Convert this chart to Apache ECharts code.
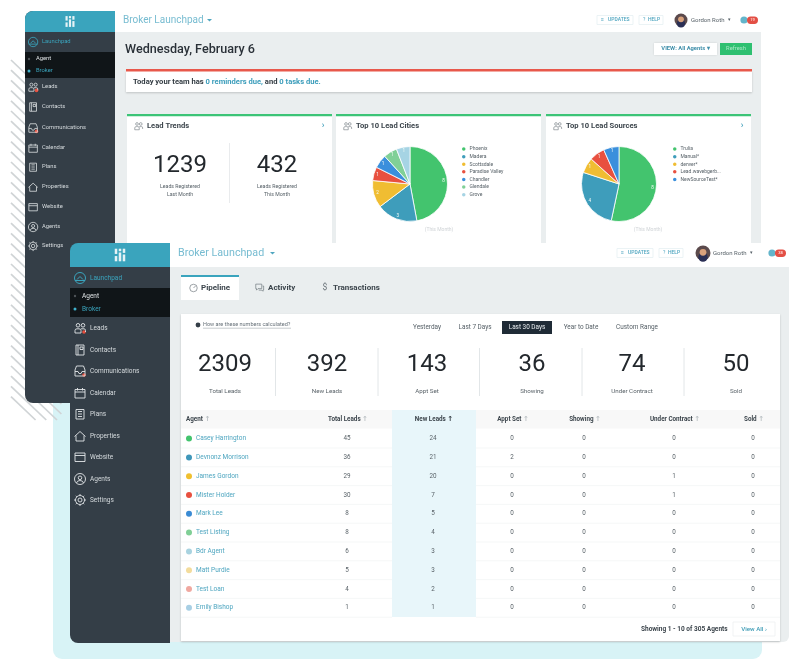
<!DOCTYPE html>
<html>
<head>
<meta charset="utf-8">
<style>
  html, body { margin: 0; background: #fff; }
  #chart { width: 800px; height: 672px; }
</style>
<script src="https://cdn.jsdelivr.net/npm/echarts@6/dist/echarts.min.js"></script>
</head>
<body>
<div id="chart"></div>
<script>
// pie data
const cityNames = ["Phoenix", "Madera", "Scottsdale", "Paradise Valley", "Chandler", "Glendale", "Grove"];
const cityLeads = [8, 3, 2, 1, 1, 1, 1];
const cityColors = ["#43c46e", "#3e9dbb", "#f0bd32", "#e8503f", "#3a8fdc", "#80d097", "#a6d4e4"];
const sourceNames = ["Trulia", "Manual*", "denver*", "Lead.wavebgerb...", "NewSourceTest*"];
const sourceLeads = [8, 4, 1, 1, 1];
const sourceColors = ["#43c46e", "#3e9dbb", "#f0bd32", "#e8503f", "#3a8fdc"];

// back panel numbers
const trendValues = ["1239", "432"];
const trendLabels = [["Leads Registered", "Last Month"], ["Leads Registered", "This Month"]];

// front panel numbers
const metricValues = ["2309", "392", "143", "36", "74", "50"];
const metricLabels = ["Total Leads", "New Leads", "Appt Set", "Showing", "Under Contract", "Sold"];
const filterLabels = ["Yesterday", "Last 7 Days", "Last 30 Days", "Year to Date", "Custom Range"];

// table
const agentNames = ["Casey Harrington", "Devnonz Morrison", "James Gordon", "Mister Holder", "Mark Lee",
  "Test Listing", "Bdr Agent", "Matt Purdie", "Test Loan", "Emily Bishop"];
const agentColors = ["#43c46e", "#3f97ba", "#f0c02f", "#e8503f", "#3a8bd4", "#80cf96", "#a9d3e0", "#f3dc9c", "#f0a8a0", "#a8cfe4"];
const totalLeads = [45, 36, 29, 30, 8, 8, 6, 5, 4, 1];
const newLeads = [24, 21, 20, 7, 5, 4, 3, 3, 2, 1];
const apptSet = [0, 2, 0, 0, 0, 0, 0, 0, 0, 0];
const showing = [0, 0, 0, 0, 0, 0, 0, 0, 0, 0];
const underContract = [0, 0, 1, 1, 0, 0, 0, 0, 0, 0];
const sold = [0, 0, 0, 0, 0, 0, 0, 0, 0, 0];

const navItems = ["Leads", "Contacts", "Communications", "Calendar", "Plans", "Properties", "Website", "Agents", "Settings"];

const TEAL = "#3aa4bd";
const LINK = "#4fa6c0";
const SIDE = "#343e47";
const GRAY = "#eaeeef";
const INK = "#2b343b";
const FONT = "Roboto, sans-serif";

const ICONS = {
  launchpad: "M6 0.5A5.5 5.5 0 1 1 5.99 0.5Z M3 7.5L6 4.5L9 7.5 M1 8.5H11",
  Leads: "M4 1.5a1.8 1.8 0 1 0 .01 0Z M9 1.5a1.8 1.8 0 1 0 .01 0Z M1 11V8.5Q1 6.8 3 6.8H5Q7 6.8 7 8.5V11Z M7 6.8H10Q11.5 6.8 11.5 8.5V10",
  Contacts: "M2 1H10V11H2Z M4 1V11 M6 3H9V5.5H6Z",
  Communications: "M1 5L2.5 1H9.5L11 5V11H1Z M1 6.5H4L5 8.5H7L8 6.5H11",
  Calendar: "M1 2.5H11V11H1Z M1 5H11 M3.5 1V3.5 M8.5 1V3.5",
  Plans: "M2 1.5H10V11H2Z M4 3.5H8 M4 6H8 M4 8.5H8",
  Properties: "M0.5 6.5L6 1.5L11.5 6.5 M2 5.5V11H10V5.5",
  Website: "M1 2H11V10.5H1Z M1 4.5H11",
  Agents: "M6 0.5A5.5 5.5 0 1 1 5.99 0.5Z M6 3a1.8 1.8 0 1 0 .01 0Z M2.5 10Q3 7.5 6 7.5Q9 7.5 9.5 10",
  Settings: "M6 4a2 2 0 1 0 .01 0Z M6 1.5a4.5 4.5 0 1 0 .01 0Z M6 0V1.5 M6 10.5V12 M0 6H1.5 M10.5 6H12 M1.8 1.8L2.8 2.8 M9.2 9.2L10.2 10.2 M1.8 10.2L2.8 9.2 M9.2 2.8L10.2 1.8",
  gauge: "M6 1A5 5 0 1 1 5.99 1Z M6 6L9 3",
  chat: "M1 1.5H9V7.5H4L2 9.5V7.5H1Z M10 4H11.5V9.5H10.5V11L9 9.5H5"
};

const g = [];
const iconList = [];

function rect(x, y, w, h, fill, extra) {
  const { r, ...style } = extra || {};
  g.push({ type: "rect", shape: { x, y, width: w, height: h, r: r || 0 }, style: { fill, ...style }, silent: true });
}
function circle(x, y, r, fill) {
  g.push({ type: "circle", shape: { cx: x, cy: y, r }, style: { fill }, silent: true });
}
function line(x1, y1, x2, y2, stroke, lineWidth) {
  g.push({ type: "line", shape: { x1, y1, x2, y2 }, style: { stroke, lineWidth: lineWidth || 1 }, silent: true });
}
function text(x, y, str, opts) {
  const o = opts || {};
  g.push({
    type: "text", x, y, silent: true,
    style: {
      text: str, fill: o.color || INK, fontFamily: FONT, fontSize: o.size || 6, fontWeight: o.weight || 400,
      align: o.align || "left", verticalAlign: "middle", rich: o.rich
    }
  });
}
// the graphic component has no path type, icons go through a custom series
function icon(name, x, y, scale, stroke, lineWidth) {
  iconList.push({ name, x, y, scale, stroke, lineWidth: lineWidth || 0.8 });
}
function logo(cx, cy, s) {
  const bars = [[-5, -6, 2.4, 5], [-5, 1, 2.4, 5], [-1.2, -6, 2.4, 2.4], [-1.2, -2.4, 2.4, 8.4], [2.6, -6, 2.4, 4], [2.6, -0.5, 2.4, 6.5]];
  bars.forEach(b => rect(cx + b[0] * s, cy + b[1] * s, b[2] * s, b[3] * s, "#e6f3f6"));
}

function sidebar(p) {
  rect(p.x, p.y, p.w, p.h, SIDE, { r: [8, 0, 0, 8] });
  rect(p.x, p.y, p.w, p.headH, TEAL, { r: [8, 0, 0, 0] });
  logo(p.x + p.w / 2, p.y + p.headH / 2, p.logoScale);
  icon("launchpad", p.iconX, p.launchY - 6 * p.scale, p.scale, TEAL, 1);
  text(p.textX, p.launchY, "Launchpad", { color: TEAL, size: p.size });
  rect(p.x, p.subY, p.w, p.subH, "#101518");
  circle(p.dotX, p.agentY, 1.2, "#4d5358");
  text(p.subX, p.agentY, "Agent", { color: "#dfe3e5", size: p.size });
  circle(p.dotX, p.brokerY, 1.5, "#3fb1cc");
  text(p.subX, p.brokerY, "Broker", { color: TEAL, size: p.size });
  navItems.forEach((name, i) => {
    const y = p.rowYs[i];
    icon(name, p.iconX, y - 6 * p.scale, p.scale, "#e3e7e9", 0.9);
    if (name === "Leads" || name === "Communications") circle(p.iconX + 10 * p.scale, y + 4 * p.scale, 1.8, "#e8503f");
    text(p.textX, y, name, { color: "#d6dbde", size: p.size });
  });
}

function topBar(p) {
  text(p.titleX, p.cy, "Broker Launchpad", { color: "#77bcd1", size: p.titleSize });
  g.push({
    type: "polygon", silent: true,
    shape: { points: [[p.caretX, p.cy - 1], [p.caretX + 5, p.cy - 1], [p.caretX + 2.5, p.cy + 1.6]] },
    style: { fill: "#4fa6c0" }
  });
  rect(p.updX, p.cy - 4.5, 36, 9, "#fff", { stroke: "#e6f0f3", lineWidth: 0.8 });
  text(p.updX + 4, p.cy, "≡", { color: LINK, size: 5 });
  text(p.updX + 11, p.cy, "UPDATES", { color: LINK, size: 5, weight: 500 });
  rect(p.helpX, p.cy - 4.5, 24, 9, "#fff", { stroke: "#e6f0f3", lineWidth: 0.8 });
  text(p.helpX + 4, p.cy, "?", { color: LINK, size: 5 });
  text(p.helpX + 9, p.cy, "HELP", { color: LINK, size: 5, weight: 500 });
  circle(p.avatarX, p.cy, p.avatarR, "#5b4a4c");
  circle(p.avatarX, p.cy + p.avatarR * 0.55, p.avatarR * 0.62, "#2a2f55");
  circle(p.avatarX, p.cy - p.avatarR * 0.1, p.avatarR * 0.45, "#d9a27c");
  text(p.nameX, p.cy, "Gordon Roth", { color: "#555f66", size: 6 });
  text(p.nameX + 38, p.cy, "▾", { color: "#555f66", size: 5, align: "center" });
  circle(p.bellX, p.cy, 3.6, "#63b5cb");
  rect(p.bellX + 3, p.cy - 3.6, 11, 7.5, "#e34f45", { r: 3.7 });
  text(p.bellX + 8.5, p.cy, p.badge, { color: "#ffe1dd", size: 4, align: "center", weight: 500 });
}

// ---- backdrop ----
rect(53, 300, 709, 359, "#d8f3f6", { r: 9 });
for (let y0 = 60; y0 <= 403; y0 += 10.2) {
  const len = Math.min(48, 420 - y0);
  line(11, y0, 11 + len * 1.05, y0 + len, "#d0d4d6", 1.7);
}

// ---- back dashboard ----
rect(115, 11, 646, 232, GRAY);
rect(115, 11, 646, 21, "#fff");
sidebar({
  x: 25, y: 11, w: 90, h: 392, headH: 21, logoScale: 0.9, iconX: 28, scale: 0.85, size: 5.8,
  launchY: 42, subY: 52, subH: 26, dotX: 29, subX: 36, agentY: 59, brokerY: 71, textX: 42,
  rowYs: [87, 107, 128, 148, 167, 187, 207, 227, 246]
});
topBar({
  cy: 20, titleX: 123, titleSize: 10, caretX: 207, updX: 597, helpX: 639, avatarX: 681, avatarR: 6.5,
  nameX: 691, bellX: 744, badge: "19"
});
text(125, 50, "Wednesday, February 6", { size: 12.6, weight: 500, color: "#2a3138" });
rect(654, 43, 63, 12, "#fff", { shadowBlur: 2, shadowColor: "rgba(0,0,0,.12)" });
text(685.5, 49, "VIEW: All Agents ▾", { size: 5.8, weight: 700, color: "#3f8faa", align: "center" });
rect(720, 43, 32, 12, "#2fc071");
text(736, 49, "Refresh", { size: 5.8, color: "#a9e8c6", align: "center" });

rect(126, 71, 626, 21, "#fff", { shadowBlur: 2, shadowColor: "rgba(0,0,0,.18)", shadowOffsetY: 1 });
rect(126, 69, 626, 2.6, "#e8584b");
text(133, 82, "{a|Today your team has }{b|0 reminders due,}{a| and }{b|0 tasks due.}", {
  size: 7.6,
  rich: {
    a: { fontFamily: FONT, fontSize: 7.6, fontWeight: 700, fill: "#333c43", color: "#333c43" },
    b: { fontFamily: FONT, fontSize: 7.6, fontWeight: 700, fill: "#3b9dbb", color: "#3b9dbb" }
  }
});

[[127, 205, "Lead Trends"], [336, 205, "Top 10 Lead Cities"], [546, 205, "Top 10 Lead Sources"]].forEach(([x, w, title], i) => {
  rect(x, 116, w, 127, "#fff");
  rect(x, 114, w, 2.2, "#3cc477");
  icon("Leads", x + 7, 121.5, 0.75, "#6d767c", 0.8);
  text(x + 20, 126, title, { size: 7.6, weight: 700, color: "#3c454c" });
  if (i !== 1) text(x + 196, 126, "›", { size: 9, weight: 700, color: LINK, align: "center" });
});
line(229.5, 143, 229.5, 203, "#e3e6e8", 0.8);
[180, 277].forEach((cx, i) => {
  text(cx, 166, trendValues[i], { size: 24, color: "#23282d", align: "center" });
  text(cx, 187, trendLabels[i][0], { size: 5.2, color: "#555f66", align: "center" });
  text(cx, 195, trendLabels[i][1], { size: 5.2, color: "#555f66", align: "center" });
});
text(439, 230, "(This Month)", { size: 5, color: "#cfd3d6", align: "center" });
text(648, 230, "(This Month)", { size: 5, color: "#cfd3d6", align: "center" });

// ---- front dashboard ----
rect(170, 243, 619, 399, GRAY, { r: [0, 0, 6, 0] });
rect(170, 243, 619, 24, "#fff");
sidebar({
  x: 70, y: 243, w: 100, h: 400, headH: 24, logoScale: 1.05, iconX: 74, scale: 1, size: 6.5,
  launchY: 278, subY: 288, subH: 29, dotX: 75, subX: 82, agentY: 296, brokerY: 309, textX: 90,
  rowYs: [328, 350, 371, 393, 414, 436, 457, 479, 500]
});
topBar({
  cy: 253, titleX: 178, titleSize: 10.7, caretX: 270, updX: 617, helpX: 659, avatarX: 703, avatarR: 7.5,
  nameX: 713, bellX: 772, badge: "38"
});

// tabs
rect(181, 275, 58, 25, "#fff");
rect(181, 275, 58, 2, TEAL);
icon("gauge", 189, 283.5, 0.75, "#6d767c", 0.9);
text(201, 288, "Pipeline", { size: 8, weight: 700, color: "#3c454c" });
icon("chat", 255, 283, 0.75, "#6d767c", 0.9);
text(268, 288, "Activity", { size: 8, weight: 700, color: "#3c454c" });
text(325, 288, "$", { size: 8.5, color: "#6d767c", align: "center" });
text(333, 288, "Transactions", { size: 8, weight: 700, color: "#3c454c" });

// metric card
rect(181, 314, 599, 327, "#fff", { shadowBlur: 2, shadowColor: "rgba(0,0,0,.2)", shadowOffsetY: 1 });
circle(198, 325, 2.4, "#343e47");
text(203, 325, "How are these numbers calculated?", { size: 5.5, color: "#667078" });
line(203, 328.2, 291, 328.2, "#8c949a", 0.5);
[427, 475, 527, 581, 637].forEach((cx, i) => {
  if (i === 2) rect(502, 321, 50, 13, "#1f2b36");
  text(cx, 327.5, filterLabels[i], { size: 6.4, color: i === 2 ? "#e8ecef" : "#555f66", align: "center" });
});
[225, 327, 427, 532, 632, 736].forEach((cx, i) => {
  text(cx, 365, metricValues[i], { size: 24, color: "#23282d", align: "center" });
  text(cx, 391, metricLabels[i], { size: 6.2, color: "#5a6369", align: "center" });
});
[275.5, 378, 479.5, 582, 684].forEach(x => line(x, 348, x, 396, "#dfe3e5", 0.9));

// table
const colX = [347, 433, 512, 584, 674, 753];
const rowCols = [totalLeads, newLeads, apptSet, showing, underContract, sold];
const rowH = 18.8;
rect(181, 410, 599, 18.5, "#f8f8f8");
rect(392, 410, 84, 207, "#e8f6fa");
const headRich = (color) => ({
  h: { fontFamily: FONT, fontSize: 6.3, fontWeight: 700, fill: "#3c454c", color: "#3c454c" },
  u: { fontFamily: "DejaVu Sans", fontSize: 7, fontWeight: 700, fill: color, color }
});
text(186, 419, "{h|Agent} {u|↑}", { rich: headRich("#b9bfc3") });
metricLabels.forEach((label, i) => {
  const active = i === 1;
  text(colX[i] + 1, 419, "{h|" + label + "} {u|↑}", { align: "center", rich: headRich(active ? "#2b343b" : "#b9bfc3") });
});
agentNames.forEach((name, r) => {
  const y = 438.6 + r * rowH;
  line(181, y + 9.4, 392, y + 9.4, "#f1f3f4", 0.7);
  line(476, y + 9.4, 780, y + 9.4, "#f1f3f4", 0.7);
  circle(189, y, 3, agentColors[r]);
  text(196, y, name, { size: 6.5, color: LINK });
  rowCols.forEach((col, c) => {
    text(colX[c], y, String(col[r]), { size: 6.3, color: "#5a6369", align: "center" });
  });
});
text(641, 629, "Showing 1 - 10 of 305 Agents", { size: 6.5, weight: 700, color: "#3c454c" });
rect(733, 622, 42, 14, "#fff", { stroke: "#eef0f1", lineWidth: 0.8 });
text(754, 629, "View All ›", { size: 6.2, weight: 500, color: "#3f9cb6", align: "center" });

function pieSeries(names, values, colors, cx) {
  const data = names.map((name, i) => ({ name, value: values[i], itemStyle: { color: colors[i] } }));
  return [
    {
      type: "pie", radius: 37.5, center: [cx, 184], silent: true, animation: false,
      label: { show: false }, labelLine: { show: false },
      itemStyle: { borderColor: "#fff", borderWidth: 0.8 },
      data
    },
    // transparent ring that only carries the value labels out near the rim
    {
      type: "pie", radius: [24, 37.5], center: [cx, 184], silent: true, animation: false,
      label: { show: true, position: "inside", formatter: "{c}", color: "#f4fbf7", fontSize: 4.6, fontFamily: FONT },
      labelLine: { show: false },
      data: names.map((name, i) => ({ name, value: values[i], itemStyle: { color: "rgba(0,0,0,0)", borderWidth: 0 } }))
    }
  ];
}
function pieLegend(names, left) {
  return {
    data: names, orient: "vertical", left, top: 145.3, padding: 0, icon: "circle",
    itemWidth: 5.5, itemHeight: 5.5, itemGap: 0.1, selectedMode: false,
    textStyle: { fontSize: 5, lineHeight: 5, color: "#555f66", fontFamily: FONT, padding: [0, 0, 0, -2] }
  };
}

const iconSeries = {
  type: "custom", coordinateSystem: "none", silent: true, animation: false,
  data: iconList.map((d, i) => [i]),
  renderItem: (params) => {
    const d = iconList[params.dataIndex];
    return {
      type: "path", x: d.x, y: d.y, scaleX: d.scale, scaleY: d.scale,
      shape: { pathData: ICONS[d.name] },
      style: { fill: "none", stroke: d.stroke, lineWidth: d.lineWidth }
    };
  }
};

const chart = echarts.init(document.getElementById("chart"), null, { renderer: "canvas" });
chart.setOption({
  backgroundColor: "#fff",
  animation: false,
  graphic: { elements: g },
  legend: [pieLegend(cityNames, 460), pieLegend(sourceNames, 671)],
  series: [
    ...pieSeries(cityNames, cityLeads, cityColors, 410),
    ...pieSeries(sourceNames, sourceLeads, sourceColors, 619),
    iconSeries
  ]
});
</script>
</body>
</html>
